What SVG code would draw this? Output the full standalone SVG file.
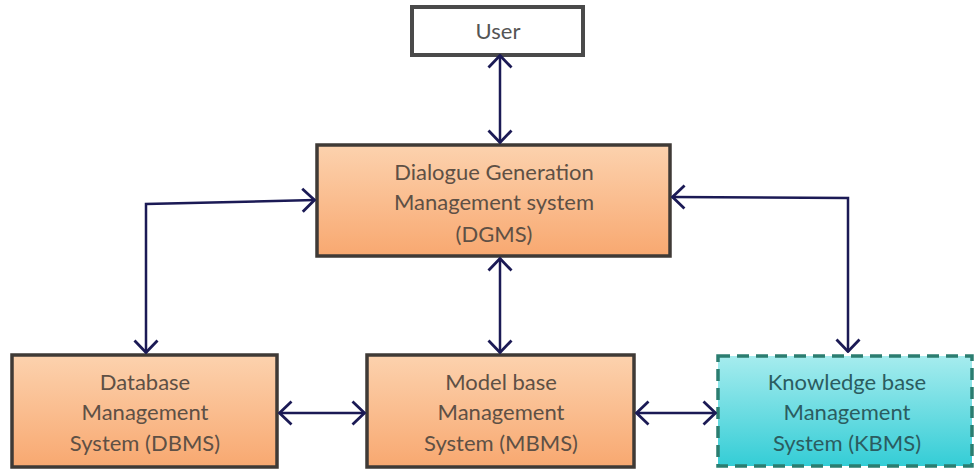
<svg xmlns="http://www.w3.org/2000/svg" width="974" height="472" viewBox="0 0 974 472">
<defs>
<linearGradient id="orange" x1="0" y1="0" x2="0" y2="1">
<stop offset="0" stop-color="#fcd2ae"/>
<stop offset="1" stop-color="#f8a870"/>
</linearGradient>
<linearGradient id="cyan" x1="0" y1="0" x2="0" y2="1">
<stop offset="0" stop-color="#a6ecee"/>
<stop offset="1" stop-color="#34cdd6"/>
</linearGradient>
<marker id="ah" viewBox="0 0 15 26" refX="14" refY="13" markerWidth="15" markerHeight="26" markerUnits="userSpaceOnUse" orient="auto-start-reverse">
<path d="M1.5,1.5 L13.5,13 L1.5,24.5" fill="none" stroke="#1b1a55" stroke-width="2.8"/>
</marker>
</defs>
<style>
.box{fill:url(#orange);stroke:#3f3a36;stroke-width:3.5}
.user{fill:#ffffff;stroke:#4a4a4a;stroke-width:4}
.kb{fill:url(#cyan);stroke:#2b7d70;stroke-width:3.5;stroke-dasharray:12 7}
.t{font-family:Lato,"Liberation Sans",sans-serif;font-size:22px;fill:#5e5045;text-anchor:middle}
.tk{fill:#2b5c60}
.tu{fill:#555555}
.c{fill:none;stroke:#1b1a55;stroke-width:2.5;marker-start:url(#ah);marker-end:url(#ah)}
</style>
<g id="user">
<rect class="user" x="412" y="7" width="171" height="48"/>
<text class="t tu" x="498" y="39">User</text>
</g>
<g id="dgms">
<rect class="box" x="317" y="145" width="353" height="111"/>
<text class="t" x="494" y="180">Dialogue Generation</text>
<text class="t" x="494" y="210">Management system</text>
<text class="t" x="494" y="242">(DGMS)</text>
</g>
<g id="dbms">
<rect class="box" x="12" y="355" width="265" height="112"/>
<text class="t" x="145" y="390">Database</text>
<text class="t" x="145" y="420">Management</text>
<text class="t" x="145" y="451">System (DBMS)</text>
</g>
<g id="mbms">
<rect class="box" x="367" y="355" width="267" height="112"/>
<text class="t" x="501" y="390">Model base</text>
<text class="t" x="501" y="420">Management</text>
<text class="t" x="501" y="451">System (MBMS)</text>
</g>
<g id="kbms">
<rect class="kb" x="718" y="356" width="254" height="110"/>
<text class="t tk" x="847" y="390">Knowledge base</text>
<text class="t tk" x="847" y="420">Management</text>
<text class="t tk" x="847" y="451">System (KBMS)</text>
</g>
<g id="connectors">
<path class="c" d="M500,55 L500,143"/>
<path class="c" d="M500,258 L500,353"/>
<path class="c" d="M315,200 L146,204 L146,353"/>
<path class="c" d="M672,197 L848,198 L848,352"/>
<path class="c" d="M279,413 L365,413"/>
<path class="c" d="M636,413 L716,413"/>
</g>
</svg>
